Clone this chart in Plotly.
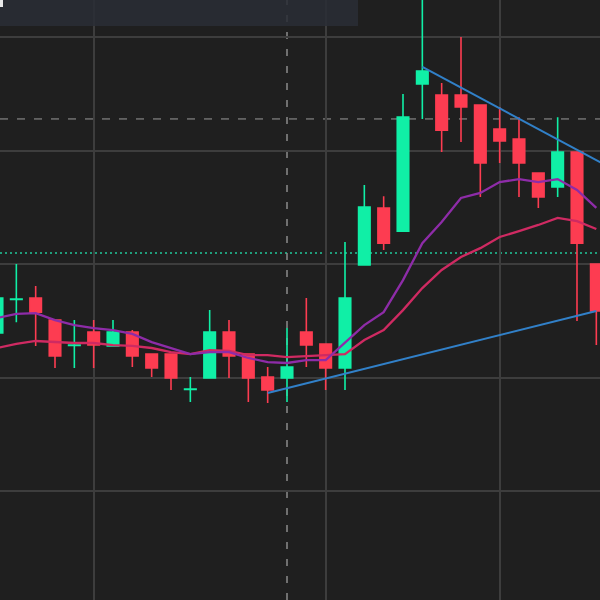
import plotly.graph_objects as go

# ---- data ----
idx = list(range(32))
opens  = [106.96, 108.44, 108.50, 107.53, 106.41, 107.00, 106.39, 107.00, 106.03, 106.03,
          104.47, 104.98, 107.00, 106.03, 105.02, 104.98, 107.00, 106.48, 105.42, 109.96,
          112.47, 111.45, 117.93, 117.44, 117.44, 117.00, 115.95, 115.51, 114.01, 113.39,
          114.93, 110.00]
highs  = [108.85, 110.00, 109.03, 107.53, 107.53, 107.53, 107.53, 107.09, 106.03, 106.03,
          105.02, 107.97, 107.53, 106.03, 105.46, 107.18, 108.50, 106.48, 110.97, 113.48,
          112.99, 117.49, 121.85, 117.97, 120.00, 117.00, 116.92, 116.47, 114.01, 116.47,
          114.93, 110.00]
lows   = [106.65, 107.44, 106.39, 105.42, 105.42, 105.42, 106.39, 105.46, 105.02, 104.45,
          103.92, 104.98, 104.98, 103.92, 103.88, 103.92, 105.46, 104.45, 104.45, 109.96,
          110.62, 111.45, 116.39, 114.93, 115.37, 112.95, 114.45, 112.95, 112.47, 112.95,
          107.49, 106.43]
closes = [108.50, 108.46, 107.88, 105.95, 106.43, 106.43, 107.00, 105.95, 105.42, 104.98,
          104.49, 107.00, 105.95, 104.98, 104.45, 105.46, 106.43, 105.42, 108.50, 112.51,
          110.92, 116.47, 118.50, 115.90, 116.92, 114.45, 115.42, 114.45, 112.95, 114.93,
          110.92, 107.93]

ma_fast = [107.62, 107.80, 107.84, 107.53, 107.31, 107.18, 107.09, 106.92, 106.56, 106.30,
           106.03, 106.12, 106.12, 105.86, 105.68, 105.64, 105.77, 105.77, 106.56, 107.31,
           107.88, 109.29, 110.92, 111.85, 112.91, 113.13, 113.61, 113.74, 113.61, 113.74,
           113.26, 112.47]
ma_slow = [106.30, 106.48, 106.61, 106.56, 106.52, 106.52, 106.43, 106.39, 106.30, 106.12,
           106.03, 106.21, 106.17, 105.99, 105.99, 105.90, 105.95, 105.99, 106.03, 106.65,
           107.09, 107.97, 108.94, 109.74, 110.31, 110.70, 111.19, 111.45, 111.72, 112.03,
           111.89, 111.54]

trend_low_x = [14, 31]
trend_low_y = [104.32, 107.93]
trend_high_x = [22, 31.5]
trend_high_y = [118.68, 114.35]

price_line_level = 116.39
last_price_level = 110.48
crosshair_x = 15

grid_x = [5, 17, 26]
grid_y = [100, 105, 110, 115, 120]

GREEN = "#10efa6"
RED = "#fd3c51"

fig = go.Figure()

fig.add_trace(go.Scatter(x=idx, y=ma_slow, mode="lines",
                         line=dict(color="#cf2a62", width=2.3), hoverinfo="skip"))
fig.add_trace(go.Scatter(x=idx, y=ma_fast, mode="lines",
                         line=dict(color="#8e2ca8", width=2.3), hoverinfo="skip"))

fig.add_trace(go.Candlestick(
    x=idx, open=opens, high=highs, low=lows, close=closes,
    increasing=dict(line=dict(color=GREEN, width=1.6), fillcolor=GREEN),
    decreasing=dict(line=dict(color=RED, width=1.6), fillcolor=RED),
    whiskerwidth=0, hoverinfo="skip"))

fig.add_trace(go.Scatter(x=trend_low_x, y=trend_low_y, mode="lines",
                         line=dict(color="#3180c8", width=2), hoverinfo="skip"))
fig.add_trace(go.Scatter(x=trend_high_x, y=trend_high_y, mode="lines",
                         line=dict(color="#3180c8", width=2), hoverinfo="skip"))

# horizontal dashed price line
fig.add_shape(type="line", xref="paper", x0=0, x1=1, yref="y",
              y0=price_line_level, y1=price_line_level,
              line=dict(color="#9a9a9a", width=1, dash="8px,9px"), layer="below")
# dotted last-price line
fig.add_shape(type="line", xref="paper", x0=0, x1=1, yref="y",
              y0=last_price_level, y1=last_price_level,
              line=dict(color="#22c99a", width=1.5, dash="2px,3px"), layer="below")
# vertical crosshair
fig.add_shape(type="line", xref="x", x0=crosshair_x, x1=crosshair_x, yref="paper",
              y0=0, y1=1,
              line=dict(color="#8c8c8c", width=1.5, dash="7px,10px"), layer="below")

# top-left legend panel
fig.add_shape(type="rect", xref="paper", yref="paper", x0=0, x1=358/600,
              y0=1 - 26/600, y1=1, fillcolor="rgba(42,46,54,0.88)",
              line=dict(width=0), layer="above")
fig.add_shape(type="rect", xref="paper", yref="paper", x0=0, x1=3/600,
              y0=1 - 7/600, y1=1, fillcolor="#e8e8e8",
              line=dict(width=0), layer="above")

fig.update_layout(
    width=600, height=600,
    margin=dict(l=0, r=0, t=0, b=0),
    paper_bgcolor="#1f1f1f", plot_bgcolor="#1f1f1f",
    showlegend=False, boxgap=0.3, boxgroupgap=0.15, hovermode=False,
    xaxis=dict(range=[0.155, 31.19], showticklabels=False, zeroline=False,
               tickvals=grid_x, gridcolor="#3d3d3d", gridwidth=1.5,
               rangeslider=dict(visible=False), fixedrange=True),
    yaxis=dict(range=[95.20, 121.63], showticklabels=False, zeroline=False,
               tickvals=grid_y, gridcolor="#3d3d3d", gridwidth=1.5, fixedrange=True),
)

fig.write_html("out.html", config={"displayModeBar": False},
               post_script="document.body.style.margin='0';"
                           "document.body.style.background='#1f1f1f';")
